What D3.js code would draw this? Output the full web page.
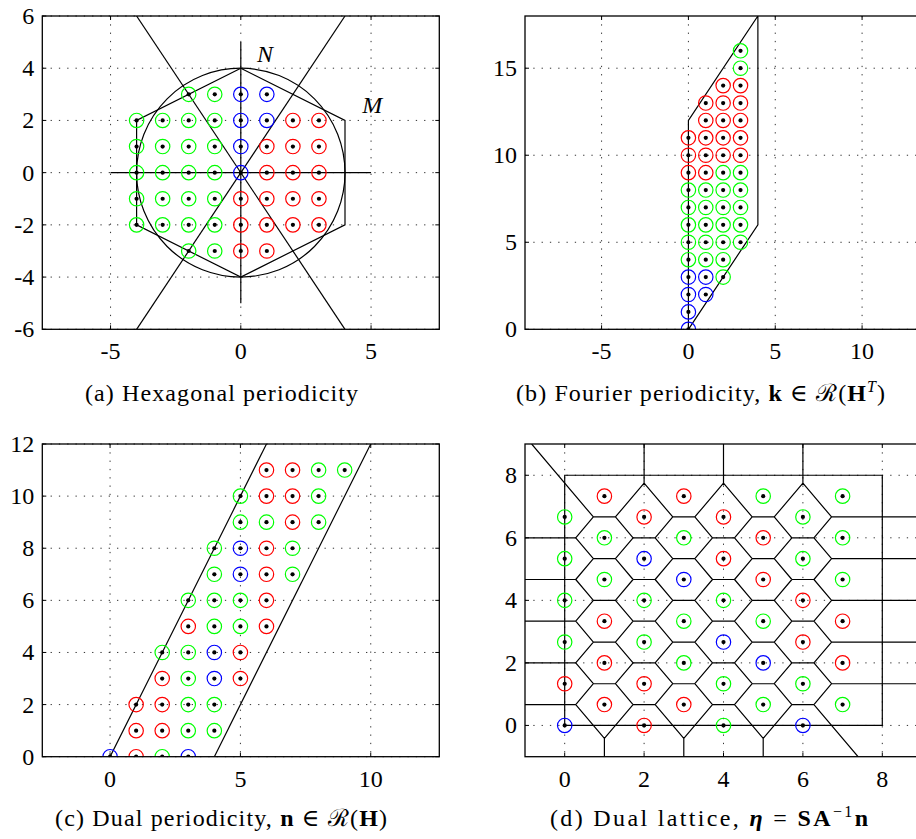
<!DOCTYPE html>
<html>
<head>
<meta charset="utf-8">
<script src="https://cdn.jsdelivr.net/npm/d3@7"></script>
<style>
  body { margin: 0; background: #fff; }
  text { font-family: "Liberation Serif", "DejaVu Serif", serif; fill: #000; }
</style>
</head>
<body>
<svg id="chart" width="916" height="839"></svg>
<script>
// colour keys: r = red, g = green, b = blue
const hexPoints = [
  [-2, 3, 'g'], [-1, 3, 'g'], [0, 3, 'b'], [1, 3, 'b'],
  [-4, 2, 'g'], [-3, 2, 'g'], [-2, 2, 'g'], [-1, 2, 'g'], [0, 2, 'b'], [1, 2, 'b'], [2, 2, 'r'], [3, 2, 'r'],
  [-4, 1, 'g'], [-3, 1, 'g'], [-2, 1, 'g'], [-1, 1, 'g'], [0, 1, 'b'], [1, 1, 'r'], [2, 1, 'r'], [3, 1, 'r'],
  [-4, 0, 'g'], [-3, 0, 'g'], [-2, 0, 'g'], [-1, 0, 'g'], [0, 0, 'b'], [1, 0, 'r'], [2, 0, 'r'], [3, 0, 'r'],
  [-4, -1, 'g'], [-3, -1, 'g'], [-2, -1, 'g'], [-1, -1, 'g'], [0, -1, 'r'], [1, -1, 'r'], [2, -1, 'r'], [3, -1, 'r'],
  [-4, -2, 'g'], [-3, -2, 'g'], [-2, -2, 'g'], [-1, -2, 'g'], [0, -2, 'r'], [1, -2, 'r'], [2, -2, 'r'], [3, -2, 'r'],
  [-2, -3, 'g'], [-1, -3, 'g'], [0, -3, 'r'], [1, -3, 'r']
];
const hexOutline = [[0, 4], [4, 2], [4, -2], [0, -4], [-4, -2], [-4, 2], [0, 4]];
const hexRadius = 4;

const fourierPoints = [
  [0, 0, 'b'], [0, 1, 'b'], [0, 2, 'b'], [0, 3, 'b'], [0, 4, 'g'], [0, 5, 'g'], [0, 6, 'g'], [0, 7, 'g'], [0, 8, 'g'], [0, 9, 'r'], [0, 10, 'r'], [0, 11, 'r'],
  [1, 2, 'b'], [1, 3, 'b'], [1, 4, 'g'], [1, 5, 'g'], [1, 6, 'g'], [1, 7, 'g'], [1, 8, 'g'], [1, 9, 'r'], [1, 10, 'r'], [1, 11, 'r'], [1, 12, 'r'], [1, 13, 'r'],
  [2, 3, 'g'], [2, 4, 'g'], [2, 5, 'g'], [2, 6, 'g'], [2, 7, 'g'], [2, 8, 'g'], [2, 9, 'g'], [2, 10, 'r'], [2, 11, 'r'], [2, 12, 'r'], [2, 13, 'r'], [2, 14, 'r'],
  [3, 5, 'g'], [3, 6, 'g'], [3, 7, 'g'], [3, 8, 'g'], [3, 9, 'g'], [3, 10, 'r'], [3, 11, 'r'], [3, 12, 'r'], [3, 13, 'r'], [3, 14, 'r'], [3, 15, 'g'], [3, 16, 'g']
];
const fourierOutline = [[0, 0], [0, 12], [4, 18], [4, 6], [0, 0]];

const dualPoints = [
  [0, 0, 'b'], [1, 0, 'r'], [2, 0, 'g'], [3, 0, 'b'],
  [1, 1, 'r'], [2, 1, 'r'], [3, 1, 'g'], [4, 1, 'g'],
  [1, 2, 'r'], [2, 2, 'r'], [3, 2, 'g'], [4, 2, 'g'],
  [2, 3, 'r'], [3, 3, 'g'], [4, 3, 'b'], [5, 3, 'r'],
  [2, 4, 'g'], [3, 4, 'g'], [4, 4, 'b'], [5, 4, 'r'],
  [3, 5, 'r'], [4, 5, 'g'], [5, 5, 'g'], [6, 5, 'r'],
  [3, 6, 'g'], [4, 6, 'g'], [5, 6, 'g'], [6, 6, 'r'],
  [4, 7, 'g'], [5, 7, 'b'], [6, 7, 'r'], [7, 7, 'g'],
  [4, 8, 'g'], [5, 8, 'b'], [6, 8, 'r'], [7, 8, 'g'],
  [5, 9, 'g'], [6, 9, 'g'], [7, 9, 'r'], [8, 9, 'g'],
  [5, 10, 'g'], [6, 10, 'r'], [7, 10, 'r'], [8, 10, 'g'],
  [6, 11, 'r'], [7, 11, 'r'], [8, 11, 'g'], [9, 11, 'g']
];
const dualEdges = [[[0, 0], [6, 12]], [[4, 0], [10, 12]]];

const latticePoints = [
  [0, 0, 'b'], [0, 1.333, 'r'], [0, 2.667, 'g'], [0, 4, 'g'], [0, 5.333, 'g'], [0, 6.667, 'g'],
  [1, 0.667, 'r'], [1, 2, 'r'], [1, 3.333, 'r'], [1, 4.667, 'g'], [1, 6, 'g'], [1, 7.333, 'r'],
  [2, 0, 'r'], [2, 1.333, 'r'], [2, 2.667, 'g'], [2, 4, 'g'], [2, 5.333, 'b'], [2, 6.667, 'r'],
  [3, 0.667, 'r'], [3, 2, 'g'], [3, 3.333, 'g'], [3, 4.667, 'b'], [3, 6, 'g'], [3, 7.333, 'r'],
  [4, 0, 'g'], [4, 1.333, 'g'], [4, 2.667, 'b'], [4, 4, 'g'], [4, 5.333, 'r'], [4, 6.667, 'r'],
  [5, 0.667, 'g'], [5, 2, 'b'], [5, 3.333, 'g'], [5, 4.667, 'r'], [5, 6, 'r'], [5, 7.333, 'g'],
  [6, 0, 'b'], [6, 1.333, 'g'], [6, 2.667, 'r'], [6, 4, 'r'], [6, 5.333, 'g'], [6, 6.667, 'g'],
  [7, 0.667, 'g'], [7, 2, 'r'], [7, 3.333, 'r'], [7, 4.667, 'g'], [7, 6, 'g'], [7, 7.333, 'g']
];
const latticeBox = [[0, 0], [8, 0], [8, 8], [0, 8], [0, 0]];

const colours = {r: '#ff0000', g: '#00ff00', b: '#0000ff'};

const svg = d3.select('#chart');
let clipId = 0;

function panel(o) {
  const g = svg.append('g');
  const x = d3.scaleLinear().domain(o.xd).range([o.left, o.left + o.w]);
  const y = d3.scaleLinear().domain(o.yd).range([o.top + o.h, o.top]);
  const id = 'clip' + (clipId++);
  g.append('clipPath').attr('id', id)
    .append('rect').attr('x', o.left).attr('y', o.top).attr('width', o.w).attr('height', o.h);

  // dotted grid
  const grid = g.append('g').attr('stroke', '#333').attr('stroke-width', 1).attr('stroke-dasharray', '1.3,7');
  o.xt.forEach(t => grid.append('line').attr('x1', x(t)).attr('x2', x(t)).attr('y1', o.top).attr('y2', o.top + o.h));
  o.yt.forEach(t => grid.append('line').attr('y1', y(t)).attr('y2', y(t)).attr('x1', o.left).attr('x2', o.left + o.w));

  const body = g.append('g').attr('clip-path', `url(#${id})`);
  o.draw(body, x, y);

  // points: coloured ring with black centre dot
  const pts = body.append('g').selectAll('g').data(o.points).join('g')
    .attr('transform', d => `translate(${x(d[0])},${y(d[1])})`);
  pts.append('circle').attr('r', 7.2).attr('fill', 'none')
    .attr('stroke', d => colours[d[2]]).attr('stroke-width', 1.2);
  pts.append('circle').attr('r', 2.1).attr('fill', '#000');

  // frame and inward ticks
  g.append('rect').attr('x', o.left).attr('y', o.top).attr('width', o.w).attr('height', o.h)
    .attr('fill', 'none').attr('stroke', '#000').attr('stroke-width', 1.3);
  const tk = g.append('g').attr('stroke', '#000').attr('stroke-width', 1);
  o.xt.forEach(t => {
    tk.append('line').attr('x1', x(t)).attr('x2', x(t)).attr('y1', o.top + o.h).attr('y2', o.top + o.h - 4);
    tk.append('line').attr('x1', x(t)).attr('x2', x(t)).attr('y1', o.top).attr('y2', o.top + 4);
  });
  o.yt.forEach(t => {
    tk.append('line').attr('y1', y(t)).attr('y2', y(t)).attr('x1', o.left).attr('x2', o.left + 4);
    tk.append('line').attr('y1', y(t)).attr('y2', y(t)).attr('x1', o.left + o.w).attr('x2', o.left + o.w - 4);
  });

  g.append('g').selectAll('text').data(o.xt).join('text')
    .attr('x', d => x(d)).attr('y', o.top + o.h + 30)
    .attr('text-anchor', 'middle').attr('font-size', 24).text(d => d);
  g.append('g').selectAll('text').data(o.yt).join('text')
    .attr('x', o.left - 8).attr('y', d => y(d) + 8)
    .attr('text-anchor', 'end').attr('font-size', 24).text(d => d);

  // caption with rich text segments
  const cap = g.append('text').attr('x', o.capX - o.capW / 2).attr('y', o.capY)
    .attr('font-size', 24).attr('textLength', o.capW).attr('lengthAdjust', 'spacing');
  o.caption.forEach(([s, st]) => {
    const ts = cap.append('tspan').text(s);
    if (st && st.includes('b')) ts.attr('font-weight', 'bold');
    if (st && st.includes('i')) ts.attr('font-style', 'italic');
    if (st && st.includes('^')) ts.attr('font-size', 16).attr('dy', -9);
    if (st && st.includes('_')) ts.attr('dy', 9);
  });
  return {x, y};
}

const line = (x, y) => d3.line().x(d => x(d[0])).y(d => y(d[1]));

// (a) Hexagonal periodicity
panel({
  left: 42.3, top: 16, w: 397, h: 313.3,
  xd: [-7.62, 7.62], yd: [-6, 6],
  xt: [-5, 0, 5], yt: [-6, -4, -2, 0, 2, 4, 6],
  points: hexPoints,
  capX: 221.5, capY: 401, capW: 273,
  caption: [['(a)  Hexagonal periodicity']],
  draw(g, x, y) {
    const s = g.append('g').attr('fill', 'none').attr('stroke', '#000').attr('stroke-width', 1.2);
    s.append('ellipse').attr('cx', x(0)).attr('cy', y(0))
      .attr('rx', x(hexRadius) - x(0)).attr('ry', y(0) - y(hexRadius));
    s.append('path').attr('d', line(x, y)(hexOutline));
    s.append('path').attr('d', line(x, y)([[-5, 0], [5, 0]]));
    s.append('path').attr('d', line(x, y)([[0, -5], [0, 5]]));
    s.append('path').attr('d', line(x, y)([[-4, 6], [4, -6]]));
    s.append('path').attr('d', line(x, y)([[-4, -6], [4, 6]]));
    g.append('text').attr('x', x(0.93)).attr('y', y(4.25)).attr('text-anchor', 'middle')
      .attr('font-size', 24).attr('font-style', 'italic').text('N');
    g.append('text').attr('x', x(5.05)).attr('y', y(2.29)).attr('text-anchor', 'middle')
      .attr('font-size', 24).attr('font-style', 'italic').text('M');
  }
});

// (b) Fourier periodicity
panel({
  left: 525, top: 16, w: 397, h: 313.3,
  xd: [-9.41, 13.45], yd: [0, 18],
  xt: [-5, 0, 5, 10], yt: [0, 5, 10, 15],
  points: fourierPoints,
  capX: 700.5, capY: 401, capW: 369,
  caption: [['(b)  Fourier periodicity, '], ['k', 'b'], [' ∈ ℛ('], ['H', 'b'], ['T', 'i^'], [')', '_']],
  draw(g, x, y) {
    g.append('path').attr('d', line(x, y)(fourierOutline))
      .attr('fill', 'none').attr('stroke', '#000').attr('stroke-width', 1.2);
  }
});

// (c) Dual periodicity
panel({
  left: 42.3, top: 444, w: 397, h: 312.7,
  xd: [-2.6, 12.63], yd: [0, 12],
  xt: [0, 5, 10], yt: [0, 2, 4, 6, 8, 10, 12],
  points: dualPoints,
  capX: 221, capY: 826, capW: 332,
  caption: [['(c)  Dual periodicity, '], ['n', 'b'], [' ∈ ℛ('], ['H', 'b'], [')']],
  draw(g, x, y) {
    dualEdges.forEach(e => g.append('path').attr('d', line(x, y)(e))
      .attr('fill', 'none').attr('stroke', '#000').attr('stroke-width', 1.2));
  }
});

// (d) Dual lattice with Voronoi cells
panel({
  left: 525, top: 444, w: 397, h: 312.7,
  xd: [-1, 9], yd: [-1, 9],
  xt: [0, 2, 4, 6, 8], yt: [0, 2, 4, 6, 8],
  points: latticePoints,
  capX: 709, capY: 826, capW: 318,
  caption: [['(d)  Dual lattice, '], ['η', 'bi'], [' = '], ['SA', 'b'], ['−1', '^'], ['n', 'b_']],
  draw(g, x, y) {
    const vor = d3.Delaunay.from(latticePoints, d => d[0], d => d[1]).voronoi([-1, -1, 9, 9]);
    let p = '';
    const ctx = {
      moveTo(a, b) { p += `M${x(a)},${y(b)}`; },
      lineTo(a, b) { p += `L${x(a)},${y(b)}`; },
      closePath() { p += 'Z'; }
    };
    vor.render(ctx);
    g.append('path').attr('d', p).attr('fill', 'none').attr('stroke', '#000').attr('stroke-width', 1.2);
    g.append('path').attr('d', line(x, y)(latticeBox))
      .attr('fill', 'none').attr('stroke', '#000').attr('stroke-width', 1.2);
  }
});
</script>
</body>
</html>
